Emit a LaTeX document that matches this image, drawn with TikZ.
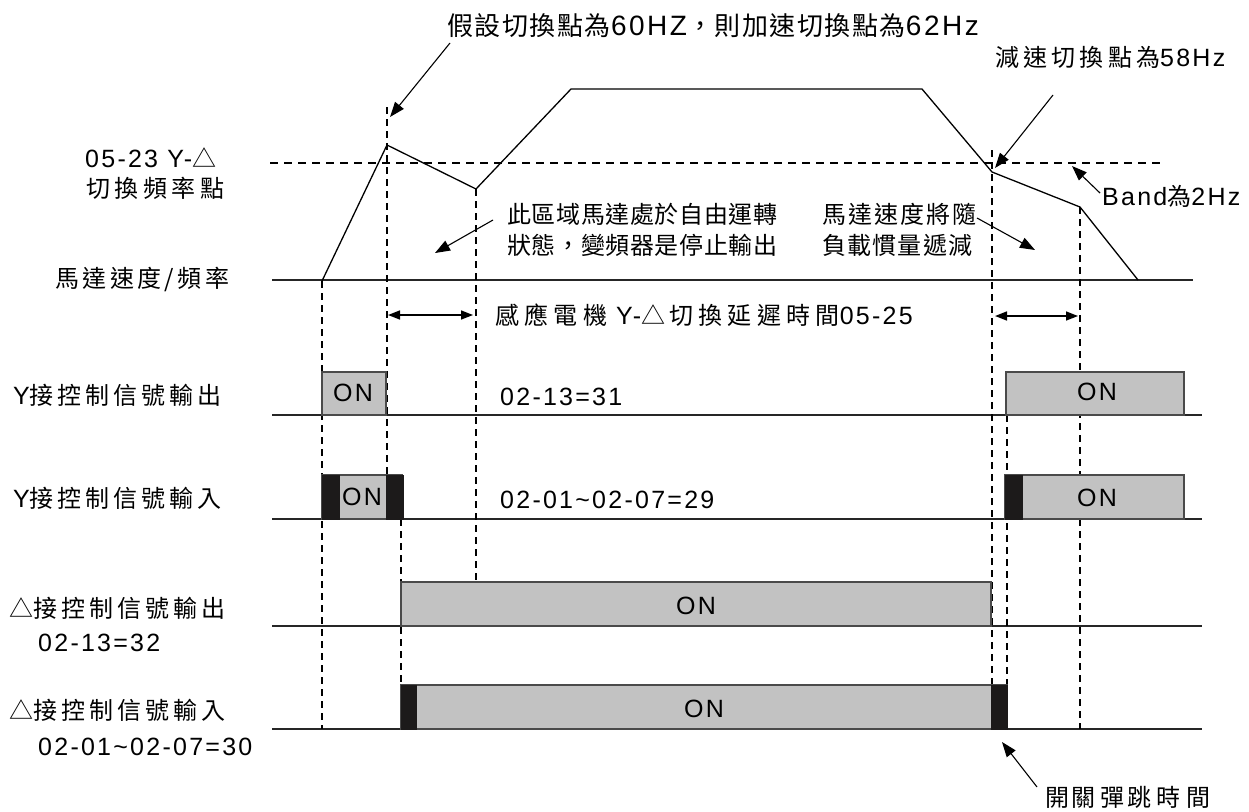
\documentclass[tikz,border=0pt]{standalone}
\usepackage{fontspec}
\setmainfont{Liberation Sans}[LetterSpace=9]
\newfontfamily\cjkf{Noto Sans CJK TC}[LetterSpace=22]
\newfontfamily\cjkt{Noto Sans CJK TC}[LetterSpace=6]
\newfontfamily\cjkn{Noto Sans CJK TC}
\newcommand\C[1]{{\cjkf\fontsize{24}{28}\selectfont #1}}
\newcommand\CT[1]{{\cjkt\fontsize{26}{30}\selectfont #1}}
\makeatletter
\def\sprd#1{#1\futurelet\sp@next\sprd@b}
\def\sprd@b{\ifx\sp@next\relax\expandafter\sprd@c\else\hfil\expandafter\sprd\fi}
\def\sprd@c\relax{}
\makeatother
\newcommand\SP[2]{{\cjkn\fontsize{24}{28}\selectfont\makebox[#1][s]{\sprd#2\relax}}}
\usetikzlibrary{arrows.meta}
\definecolor{boxgray}{HTML}{C2C2C2}
\definecolor{edgegray}{HTML}{4A4A4A}
\definecolor{blkc}{HTML}{1C1A1A}
\tikzset{
  sigline/.style={line width=1.3pt, draw=black!85},
  curve/.style={line width=1.3pt, draw=black, line join=miter},
  vdash/.style={line width=1.8pt, dash pattern=on 7pt off 5pt},
  hdash/.style={line width=1.6pt, dash pattern=on 8pt off 6pt},
  onbox/.style={fill=boxgray, draw=edgegray, line width=1.3pt},
  blkbox/.style={fill=blkc, draw=blkc, line width=0.6pt},
  lbl/.style={inner sep=0pt, anchor=west, font=\fontsize{25}{30}\selectfont},
  ontxt/.style={inner sep=0pt, font=\fontsize{25}{30}\selectfont},
  ptr/.style={-{Triangle[length=15pt,width=11pt]}, line width=1.1pt},
  dbl/.style={{Triangle[length=12pt,width=9pt]}-{Triangle[length=12pt,width=9pt]}, line width=1.5pt},
}
\begin{document}
\begin{tikzpicture}[x=1pt,y=-1pt]
\useasboundingbox (0,0) rectangle (1249,811);
\fill[white] (0,0) rectangle (1249,811);

% ---- horizontal baselines
\coordinate (b0l) at (272,280); \coordinate (b0r) at (1193,280);
\coordinate (b1l) at (272,415); \coordinate (b1r) at (1202,415);
\coordinate (b2l) at (272,519); \coordinate (b2r) at (1202,519);
\coordinate (b3l) at (272,626); \coordinate (b3r) at (1202,626);
\coordinate (b4l) at (272,729); \coordinate (b4r) at (1202,729);
\foreach \a/\b in {b0l/b0r,b1l/b1r,b2l/b2r,b3l/b3r,b4l/b4r}
  \draw[sigline] (\a) -- (\b);

% ---- switching-frequency dashed line
\coordinate (hl) at (270,163); \coordinate (hr) at (1162,163);
\draw[hdash] (hl) -- (hr);

% ---- vertical dashed lines
\coordinate (v1t) at (322,281); \coordinate (v1b) at (322,729);
\coordinate (v2t) at (387,107); \coordinate (v2b) at (387,475);
\coordinate (v3t) at (401,519); \coordinate (v3b) at (401,729);
\coordinate (v4t) at (476,189); \coordinate (v4b) at (476,582);
\coordinate (v5t) at (992,150); \coordinate (v5b) at (992,685);
\coordinate (v6t) at (1007,415); \coordinate (v6b) at (1007,729);
\coordinate (v7t) at (1080,207); \coordinate (v7b) at (1080,729);
\foreach \a/\b in {v1t/v1b,v2t/v2b,v3t/v3b,v4t/v4b,v5t/v5b,v6t/v6b}
  \draw[vdash] (\a) -- (\b);
\draw[vdash, line width=2.6pt] (v7t) -- (v7b);

% ---- motor speed curve
\coordinate (c0) at (322,281);
\coordinate (c1) at (387,145);
\coordinate (c2) at (476,189);
\coordinate (c3) at (571,89);
\coordinate (c4) at (922,89);
\coordinate (c5) at (992,172);
\coordinate (c6) at (1080,207);
\coordinate (c7) at (1138,280);
\draw[curve] (c0) -- (c1) -- (c2) -- (c3) -- (c4) -- (c5) -- (c6) -- (c7);

% ---- Y output boxes
\path[onbox] (322,372) rectangle (386,415);
\node[ontxt] (on1) at (353,393) {ON};
\path[onbox] (1006,372) rectangle (1184,415);
\node[ontxt] (on2) at (1097,392) {ON};

% ---- Y input boxes
\path[onbox] (322,475) rectangle (402,519);
\path[blkbox] (322,475) rectangle (339,519);
\path[blkbox] (386,475) rectangle (403,519);
\node[ontxt] (on3) at (362,497) {ON};
\path[onbox] (1005,475) rectangle (1184,519);
\path[blkbox] (1005,475) rectangle (1022,519);
\node[ontxt] (on4) at (1097,498) {ON};

% ---- Delta output box
\path[onbox] (401,582) rectangle (991,626);
\node[ontxt] (on5) at (696,606) {ON};

% ---- Delta input box
\path[onbox] (401,685) rectangle (1007,729);
\path[blkbox] (401,685) rectangle (416,729);
\path[blkbox] (991,685) rectangle (1007,729);
\node[ontxt] (on6) at (704,709) {ON};

% ---- texts
\node[lbl] (top) at (447,26) {\fontsize{28}{32}\selectfont\CT{假設切換點為}60HZ\CT{，則加速切換點為}62Hz};
\node[lbl] (dec) at (995,57) {\SP{165pt}{減速切換點為}58Hz};
\node[lbl] (sw1) at (85,158) {05-23 Y-\C{△}};
\node[lbl] (sw2) at (86,188) {\SP{138pt}{切換頻率點}};
\node[lbl] (fr1) at (507,214) {\SP{270pt}{此區域馬達處於自由運轉}};
\node[lbl] (fr2) at (507,245) {\SP{270pt}{狀態，變頻器是停止輸出}};
\node[lbl] (ld1) at (822,214) {\SP{154pt}{馬達速度將隨}};
\node[lbl] (ld2) at (822,245) {\SP{150pt}{負載慣量遞減}};
\node[lbl] (band) at (1102,196) {Band\C{為}2Hz};
\node[lbl] (spd) at (55,279) {\SP{174pt}{馬達速度/頻率}};
\node[lbl] (dly) at (495,315) {\C{感應電機} Y-\C{△}\,\C{切換延遲時間}05-25};
\node[lbl] (yo) at (13,395) {Y\SP{192pt}{接控制信號輸出}};
\node[lbl] (p31) at (500,397) {02-13=31};
\node[lbl] (yi) at (13,498) {Y\SP{192pt}{接控制信號輸入}};
\node[lbl] (p29) at (500,500) {02-01\textasciitilde02-07=29};
\node[lbl] (dout) at (9,608) {\C{△}\SP{192pt}{接控制信號輸出}};
\node[lbl] (p32) at (38,643) {02-13=32};
\node[lbl] (din) at (9,710) {\C{△}\SP{192pt}{接控制信號輸入}};
\node[lbl] (p30) at (38,747) {02-01\textasciitilde02-07=30};
\node[lbl] (bnc) at (1045,797) {\C{開\hspace{2pt}關彈\hspace{3pt}跳時間}};

% ---- pointer arrows
\coordinate (a1s) at (450,43);  \coordinate (a1e) at (390,117);
\coordinate (a2s) at (493,220); \coordinate (a2e) at (435,253);
\coordinate (a3s) at (977,218); \coordinate (a3e) at (1035,250);
\coordinate (a4s) at (1053,95); \coordinate (a4e) at (995,168);
\coordinate (a5s) at (1100,193); \coordinate (a5e) at (1072,166);
\coordinate (a6s) at (1037,787); \coordinate (a6e) at (1002,742);
\foreach \a/\b in {a1s/a1e,a2s/a2e,a3s/a3e,a4s/a4e,a5s/a5e,a6s/a6e}
  \draw[ptr] (\a) -- (\b);

% ---- delay double arrows
\coordinate (d1l) at (388,315); \coordinate (d1r) at (473,315);
\coordinate (d2l) at (995,316); \coordinate (d2r) at (1078,316);
\draw[dbl] (d1l) -- (d1r);
\draw[dbl] (d2l) -- (d2r);
\end{tikzpicture}
\end{document}
